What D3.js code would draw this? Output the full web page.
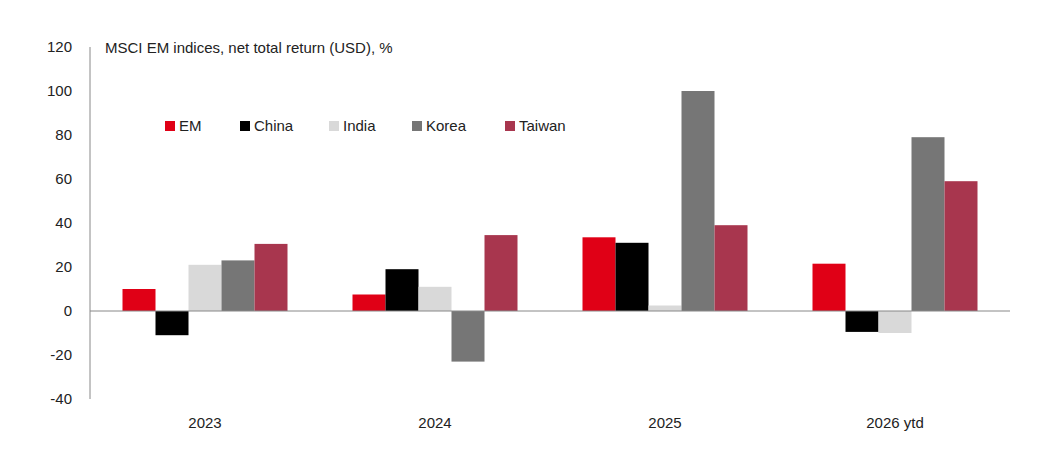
<!DOCTYPE html>
<html><head><meta charset="utf-8">
<script src="https://cdn.jsdelivr.net/npm/d3@7"></script>
<style>body{margin:0;background:#fff}text{font-family:"Liberation Sans",Arial,sans-serif;fill:#222}</style>
</head><body><svg id="c" width="1040" height="465"></svg>
<script>
const categories=["2023","2024","2025","2026 ytd"];
const seriesNames=["EM","China","India","Korea","Taiwan"];
const EM=[10,7.5,33.5,21.5];
const China=[-11,19,31,-9.5];
const India=[21,11,2.5,-10];
const Korea=[23,-23,100,79];
const Taiwan=[30.5,34.5,39,59];
const yTicks=[-40,-20,0,20,40,60,80,100,120];
const colors=["#e00016","#000000","#d9d9d9","#767676","#a8364e"];
const values=[EM,China,India,Korea,Taiwan];
const svg=d3.select("#c");
const y=d3.scaleLinear().domain([-40,120]).range([399,47]);
const x0=d3.scaleBand().domain(categories).range([90,1010]);
const x1=d3.scaleBand().domain(seriesNames).range([0,165]);
categories.forEach((c,i)=>{
  seriesNames.forEach((s,j)=>{
    const v=values[j][i];
    svg.append("rect").attr("x",x0(c)+(x0.bandwidth()-165)/2+x1(s)).attr("width",x1.bandwidth())
      .attr("y",y(Math.max(0,v))).attr("height",Math.abs(y(v)-y(0))).attr("fill",colors[j]);
  });
  svg.append("text").attr("x",x0(c)+x0.bandwidth()/2).attr("y",428).attr("text-anchor","middle").attr("font-size",15).text(c);
});
svg.append("line").attr("x1",90).attr("x2",90).attr("y1",47).attr("y2",399).attr("stroke","#888");
svg.append("line").attr("x1",90).attr("x2",1010).attr("y1",y(0)).attr("y2",y(0)).attr("stroke","#888");
yTicks.forEach(t=>svg.append("text").attr("x",72).attr("y",y(t)+5).attr("text-anchor","end").attr("font-size",15).text(t));
svg.append("text").attr("x",105).attr("y",53).attr("font-size",15).text("MSCI EM indices, net total return (USD), %");
const lx=[165,240,329,412,505];
seriesNames.forEach((s,j)=>{
  svg.append("rect").attr("x",lx[j]).attr("y",121).attr("width",10).attr("height",10).attr("fill",colors[j]);
  svg.append("text").attr("x",lx[j]+14).attr("y",131).attr("font-size",15).text(s);
});
</script></body></html>
